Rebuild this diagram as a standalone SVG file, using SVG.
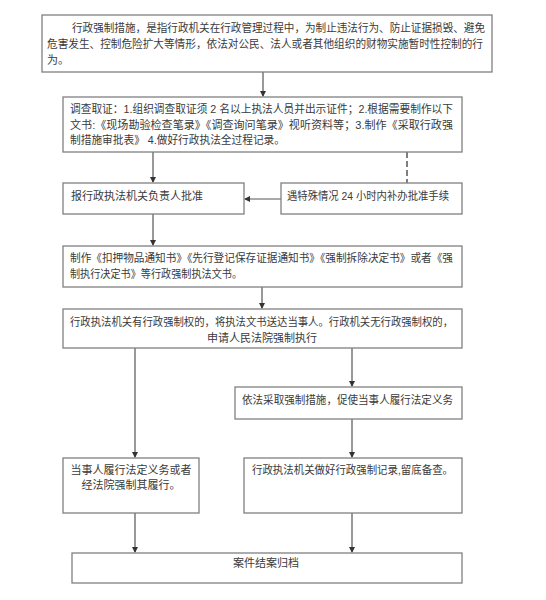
<svg xmlns="http://www.w3.org/2000/svg" width="546" height="600" viewBox="0 0 546 600">
<defs>
<marker id="ah" markerWidth="6" markerHeight="6" refX="5" refY="3" orient="auto" markerUnits="userSpaceOnUse">
<path d="M0,0 L6,3 L0,6 Z" fill="#333"/>
</marker>
<style>
.box{fill:#fff;stroke:#808080;stroke-width:1.3}
.t{font-family:"Liberation Sans","Noto Sans CJK SC",sans-serif;font-size:11px;fill:#3a3a3a}
.c{text-anchor:middle}
.ln{stroke:#555;stroke-width:1.2;fill:none}
.dash{stroke:#555;stroke-width:1.5;fill:none;stroke-dasharray:6,3}
</style>
</defs>
<rect width="546" height="600" fill="#fff"/>
<g id="connectors">
<line class="ln" x1="263" y1="72" x2="263" y2="96" marker-end="url(#ah)"/>
<line class="ln" x1="153" y1="152" x2="153" y2="182" marker-end="url(#ah)"/>
<line class="dash" x1="407" y1="152" x2="407" y2="183"/>
<line class="ln" x1="281" y1="199" x2="245" y2="199" marker-end="url(#ah)"/>
<line class="ln" x1="153" y1="214" x2="153" y2="245" marker-end="url(#ah)"/>
<line class="ln" x1="262" y1="287" x2="262" y2="308" marker-end="url(#ah)"/>
<line class="ln" x1="352" y1="348" x2="352" y2="386" marker-end="url(#ah)"/>
<line class="ln" x1="135" y1="348" x2="135" y2="457" marker-end="url(#ah)"/>
<line class="ln" x1="352" y1="419" x2="352" y2="457" marker-end="url(#ah)"/>
<line class="ln" x1="135" y1="513" x2="135" y2="552" marker-end="url(#ah)"/>
<line class="ln" x1="352" y1="513" x2="352" y2="552" marker-end="url(#ah)"/>
</g>
<g id="n1">
<rect class="box" x="42" y="15" width="450" height="57"/>
<text class="t" x="72" y="32" textLength="413" lengthAdjust="spacingAndGlyphs">行政强制措施，是指行政机关在行政管理过程中，为制止违法行为、防止证据损毁、避免</text>
<text class="t" x="47" y="48" textLength="436" lengthAdjust="spacingAndGlyphs">危害发生、控制危险扩大等情形，依法对公民、法人或者其他组织的财物实施暂时性控制的行</text>
<text class="t" x="47" y="64">为。</text>
</g>
<g id="n2">
<rect class="box" x="63" y="97" width="399" height="55"/>
<text class="t" x="70" y="113" textLength="383" lengthAdjust="spacingAndGlyphs">调查取证：1.组织调查取证须 2 名以上执法人员并出示证件；2.根据需要制作以下</text>
<text class="t" x="70" y="129" textLength="383" lengthAdjust="spacingAndGlyphs">文书:《现场勘验检查笔录》《调查询问笔录》视听资料等；3.制作《采取行政强</text>
<text class="t" x="70" y="144" textLength="215" lengthAdjust="spacingAndGlyphs">制措施审批表》 4.做好行政执法全过程记录。</text>
</g>
<g id="n3">
<rect class="box" x="63" y="183" width="181" height="31"/>
<text class="t" x="71" y="200">报行政执法机关负责人批准</text>
</g>
<g id="n4">
<rect class="box" x="281" y="183" width="181" height="31"/>
<text class="t" x="287" y="200" textLength="162" lengthAdjust="spacingAndGlyphs">遇特殊情况 24 小时内补办批准手续</text>
</g>
<g id="n5">
<rect class="box" x="63" y="246" width="399" height="41"/>
<text class="t" x="70" y="262" textLength="383" lengthAdjust="spacingAndGlyphs">制作《扣押物品通知书》《先行登记保存证据通知书》《强制拆除决定书》或者《强</text>
<text class="t" x="70" y="278" textLength="172" lengthAdjust="spacingAndGlyphs">制执行决定书》等行政强制执法文书。</text>
</g>
<g id="n6">
<rect class="box" x="63" y="309" width="399" height="39"/>
<text class="t" x="70" y="326" textLength="383" lengthAdjust="spacingAndGlyphs">行政执法机关有行政强制权的，将执法文书送达当事人。行政机关无行政强制权的，</text>
<text class="t c" x="262" y="342">申请人民法院强制执行</text>
</g>
<g id="n7">
<rect class="box" x="235" y="387" width="227" height="32"/>
<text class="t" x="242" y="404" textLength="211" lengthAdjust="spacingAndGlyphs">依法采取强制措施，促使当事人履行法定义务</text>
</g>
<g id="n8">
<rect class="box" x="63" y="458" width="136" height="55"/>
<text class="t c" x="131" y="474">当事人履行法定义务或者</text>
<text class="t c" x="131" y="489">经法院强制其履行。</text>
</g>
<g id="n9">
<rect class="box" x="244" y="458" width="218" height="55"/>
<text class="t" x="252" y="474" textLength="201" lengthAdjust="spacingAndGlyphs">行政执法机关做好行政强制记录,留底备查。</text>
</g>
<g id="n10">
<rect class="box" x="72" y="553" width="390" height="30"/>
<text class="t c" x="266" y="567">案件结案归档</text>
</g>
</svg>
